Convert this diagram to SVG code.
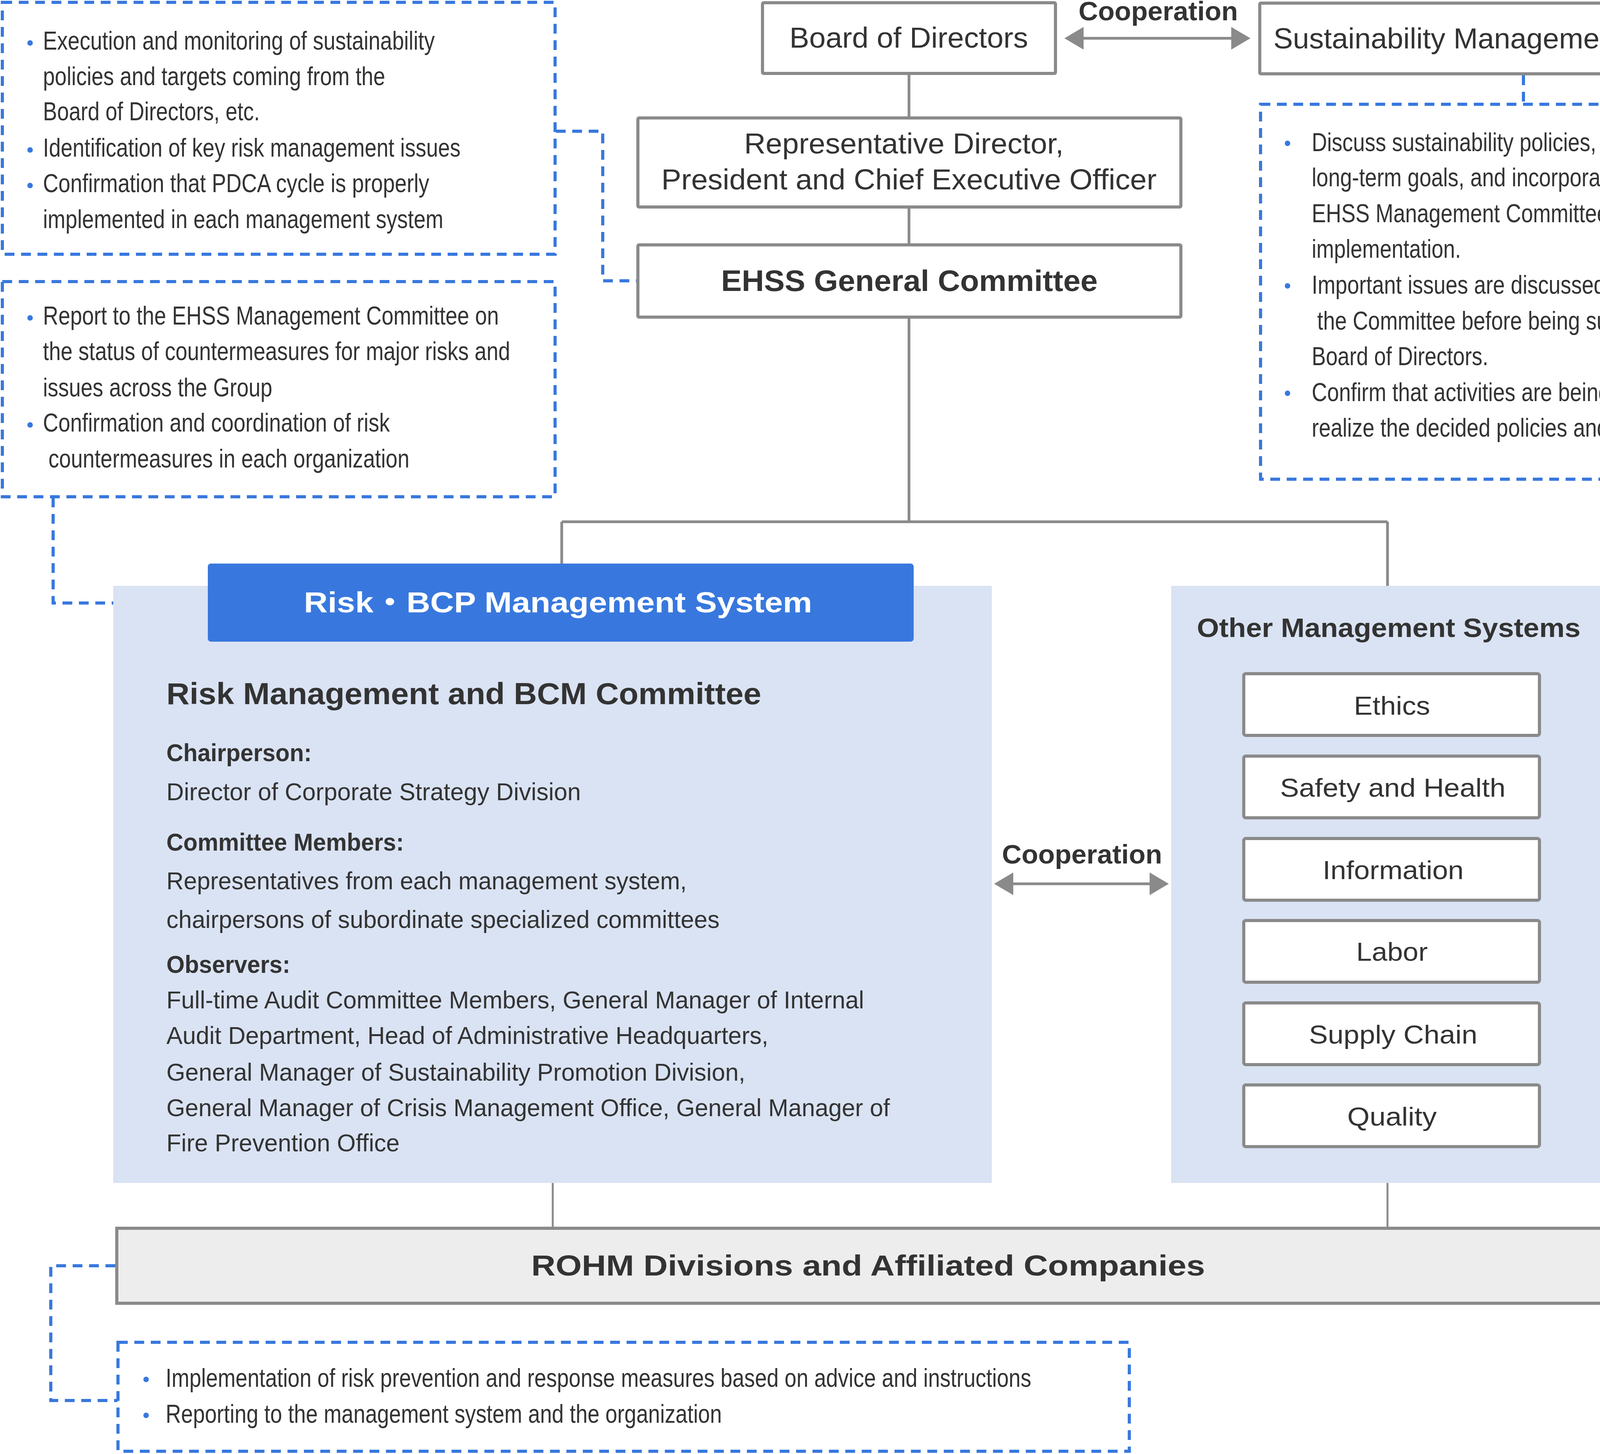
<svg xmlns="http://www.w3.org/2000/svg" width="4583" height="3723" viewBox="0 0 4583 3723">
<style>
.bx{fill:#ffffff;stroke:#8a8a8a;stroke-width:8}
.gl{fill:none;stroke:#8a8a8a;stroke-width:7}
.gt{fill:none;stroke:#8a8a8a;stroke-width:5}
.dsh{fill:none;stroke:#3878de;stroke-width:8;stroke-dasharray:25 17}
.lb{fill:#dae3f3}
.t{font-family:'Liberation Sans',Arial,sans-serif;fill:#333333}
.n{font-family:'Liberation Sans Narrow','Liberation Sans',Arial,sans-serif;fill:#333333;font-size:66px}
.b{font-weight:bold}
.bul{fill:#3878de}
</style>
<defs>
<marker id="ah" markerUnits="userSpaceOnUse" viewBox="0 0 49 58" refX="1" refY="29" markerWidth="49" markerHeight="58" orient="auto-start-reverse">
<path d="M0,0 L49,29 L0,58 Z" fill="#8a8a8a"/>
</marker>
</defs>
<rect width="4583" height="3723" fill="#ffffff"/>

<g id="connectors">
<path class="gl" d="M2327,192 V298"/>
<path class="gl" d="M2327,534 V623"/>
<path class="gl" d="M2327,816 V1336"/>
<path class="gl" d="M1438,1336 H3552"/>
<path class="gl" d="M1438,1336 V1444"/>
<path class="gl" d="M3552,1336 V1500"/>
<path class="gt" d="M1415,3029 V3142"/>
<path class="gt" d="M3552,3029 V3142"/>
<path class="gl" d="M2773,98 H3153" marker-start="url(#ah)" marker-end="url(#ah)"/>
<path class="gl" d="M2593,2263 H2944" marker-start="url(#ah)" marker-end="url(#ah)"/>
<path class="dsh" d="M1423,336 H1543 V719 H1629"/>
<path class="dsh" d="M136,1274 V1544 H522"/>
<path class="dsh" d="M3900,193 V266"/>
<path class="dsh" d="M295,3241 H130 V3586 H301"/>
</g>

<g id="coop-top">
<text class="t b" x="2761" y="52" font-size="68" textLength="408" lengthAdjust="spacingAndGlyphs">Cooperation</text>
</g>
<g id="coop-mid">
<text class="t b" x="2565" y="2211" font-size="68" textLength="410" lengthAdjust="spacingAndGlyphs">Cooperation</text>
</g>

<g id="note-exec">
<rect class="dsh" x="6" y="6" width="1415" height="645"/>
<circle class="bul" cx="77" cy="110" r="7"/>
<circle class="bul" cx="77" cy="384" r="7"/>
<circle class="bul" cx="77" cy="475" r="7"/>
<text class="n" x="110" y="127" textLength="1003" lengthAdjust="spacingAndGlyphs">Execution and monitoring of sustainability</text>
<text class="n" x="110" y="218" textLength="876" lengthAdjust="spacingAndGlyphs">policies and targets coming from the</text>
<text class="n" x="110" y="308" textLength="555" lengthAdjust="spacingAndGlyphs">Board of Directors, etc.</text>
<text class="n" x="110" y="401" textLength="1069" lengthAdjust="spacingAndGlyphs">Identification of key risk management issues</text>
<text class="n" x="110" y="492" textLength="989" lengthAdjust="spacingAndGlyphs">Confirmation that PDCA cycle is properly</text>
<text class="n" x="110" y="584" textLength="1025" lengthAdjust="spacingAndGlyphs">implemented in each management system</text>
</g>

<g id="note-report">
<rect class="dsh" x="6" y="721" width="1415" height="551"/>
<circle class="bul" cx="77" cy="814" r="7"/>
<circle class="bul" cx="77" cy="1088" r="7"/>
<text class="n" x="110" y="831" textLength="1167" lengthAdjust="spacingAndGlyphs">Report to the EHSS Management Committee on</text>
<text class="n" x="110" y="922" textLength="1196" lengthAdjust="spacingAndGlyphs">the status of countermeasures for major risks and</text>
<text class="n" x="110" y="1015" textLength="587" lengthAdjust="spacingAndGlyphs">issues across the Group</text>
<text class="n" x="110" y="1105" textLength="888" lengthAdjust="spacingAndGlyphs">Confirmation and coordination of risk</text>
<text class="n" x="124" y="1197" textLength="924" lengthAdjust="spacingAndGlyphs">countermeasures in each organization</text>
</g>

<g id="board">
<rect class="bx" x="1952" y="7" width="750" height="181" rx="3"/>
<text class="t" x="2021" y="122" font-size="75" textLength="611" lengthAdjust="spacingAndGlyphs">Board of Directors</text>
</g>

<g id="smc">
<rect class="bx" x="3225" y="8" width="1360" height="181" rx="3"/>
<text class="t" x="3260" y="124" font-size="75" textLength="1279" lengthAdjust="spacingAndGlyphs">Sustainability Management Committee</text>
</g>

<g id="note-smc">
<rect class="dsh" x="3227" y="267" width="1351" height="960"/>
<circle class="bul" cx="3296" cy="367" r="7"/>
<circle class="bul" cx="3296" cy="732" r="7"/>
<circle class="bul" cx="3296" cy="1007" r="7"/>
<text class="n" x="3358" y="387" textLength="1070" lengthAdjust="spacingAndGlyphs">Discuss sustainability policies, direction, and</text>
<text class="n" x="3358" y="477" textLength="1115" lengthAdjust="spacingAndGlyphs">long-term goals, and incorporate them into the</text>
<text class="n" x="3358" y="569" textLength="839" lengthAdjust="spacingAndGlyphs">EHSS Management Committee for</text>
<text class="n" x="3358" y="660" textLength="382" lengthAdjust="spacingAndGlyphs">implementation.</text>
<text class="n" x="3358" y="752" textLength="1095" lengthAdjust="spacingAndGlyphs">Important issues are discussed thoroughly by</text>
<text class="n" x="3372" y="844" textLength="1076" lengthAdjust="spacingAndGlyphs">the Committee before being submitted to the</text>
<text class="n" x="3358" y="935" textLength="452" lengthAdjust="spacingAndGlyphs">Board of Directors.</text>
<text class="n" x="3358" y="1027" textLength="1113" lengthAdjust="spacingAndGlyphs">Confirm that activities are being undertaken to</text>
<text class="n" x="3358" y="1118" textLength="921" lengthAdjust="spacingAndGlyphs">realize the decided policies and goals.</text>
</g>

<g id="rep-director">
<rect class="bx" x="1633" y="302" width="1390" height="228" rx="3"/>
<text class="t" x="1905" y="393" font-size="75" textLength="818" lengthAdjust="spacingAndGlyphs">Representative Director,</text>
<text class="t" x="1693" y="485" font-size="75" textLength="1268" lengthAdjust="spacingAndGlyphs">President and Chief Executive Officer</text>
</g>

<g id="ehss">
<rect class="bx" x="1633" y="627" width="1390" height="185" rx="3"/>
<text class="t b" x="1846" y="745" font-size="76" textLength="964" lengthAdjust="spacingAndGlyphs">EHSS General Committee</text>
</g>

<g id="risk-system">
<rect class="lb" x="290" y="1500" width="2249" height="1529"/>
<rect x="532" y="1443" width="1807" height="200" rx="8" fill="#3878de"/>
<text x="778" y="1568" font-size="74" font-weight="bold" fill="#ffffff" font-family="'Liberation Sans','Noto Sans CJK JP',sans-serif" textLength="1301" lengthAdjust="spacingAndGlyphs">Risk・BCP Management System</text>
<text class="t b" x="426" y="1803" font-size="78" textLength="1523" lengthAdjust="spacingAndGlyphs">Risk Management and BCM Committee</text>
<text class="t b" x="426" y="1949" font-size="63" textLength="372" lengthAdjust="spacingAndGlyphs">Chairperson:</text>
<text class="t" x="426" y="2049" font-size="63" textLength="1061" lengthAdjust="spacingAndGlyphs">Director of Corporate Strategy Division</text>
<text class="t b" x="426" y="2178" font-size="63" textLength="608" lengthAdjust="spacingAndGlyphs">Committee Members:</text>
<text class="t" x="426" y="2277" font-size="63" textLength="1332" lengthAdjust="spacingAndGlyphs">Representatives from each management system,</text>
<text class="t" x="426" y="2376" font-size="63" textLength="1416" lengthAdjust="spacingAndGlyphs">chairpersons of subordinate specialized committees</text>
<text class="t b" x="426" y="2491" font-size="63" textLength="317" lengthAdjust="spacingAndGlyphs">Observers:</text>
<text class="t" x="426" y="2582" font-size="63" textLength="1786" lengthAdjust="spacingAndGlyphs">Full-time Audit Committee Members, General Manager of Internal</text>
<text class="t" x="426" y="2673" font-size="63" textLength="1541" lengthAdjust="spacingAndGlyphs">Audit Department, Head of Administrative Headquarters,</text>
<text class="t" x="426" y="2767" font-size="63" textLength="1482" lengthAdjust="spacingAndGlyphs">General Manager of Sustainability Promotion Division,</text>
<text class="t" x="426" y="2858" font-size="63" textLength="1852" lengthAdjust="spacingAndGlyphs">General Manager of Crisis Management Office, General Manager of</text>
<text class="t" x="426" y="2948" font-size="63" textLength="597" lengthAdjust="spacingAndGlyphs">Fire Prevention Office</text>
</g>

<g id="other-systems">
<rect class="lb" x="2998" y="1500" width="1107" height="1529"/>
<text class="t b" x="3064" y="1631" font-size="68" textLength="982" lengthAdjust="spacingAndGlyphs">Other Management Systems</text>
</g>
<g id="ethics">
<rect class="bx" x="3184" y="1725" width="757" height="158" rx="5"/>
<text class="t" x="3466" y="1830" font-size="66" textLength="195" lengthAdjust="spacingAndGlyphs">Ethics</text>
</g>
<g id="safety">
<rect class="bx" x="3184" y="1936" width="757" height="158" rx="5"/>
<text class="t" x="3277" y="2040" font-size="66" textLength="577" lengthAdjust="spacingAndGlyphs">Safety and Health</text>
</g>
<g id="information">
<rect class="bx" x="3184" y="2147" width="757" height="158" rx="5"/>
<text class="t" x="3386" y="2251" font-size="66" textLength="361" lengthAdjust="spacingAndGlyphs">Information</text>
</g>
<g id="labor">
<rect class="bx" x="3184" y="2357" width="757" height="158" rx="5"/>
<text class="t" x="3472" y="2460" font-size="66" textLength="183" lengthAdjust="spacingAndGlyphs">Labor</text>
</g>
<g id="supply-chain">
<rect class="bx" x="3184" y="2568" width="757" height="158" rx="5"/>
<text class="t" x="3351" y="2672" font-size="66" textLength="431" lengthAdjust="spacingAndGlyphs">Supply Chain</text>
</g>
<g id="quality">
<rect class="bx" x="3184" y="2778" width="757" height="158" rx="5"/>
<text class="t" x="3449" y="2882" font-size="66" textLength="229" lengthAdjust="spacingAndGlyphs">Quality</text>
</g>

<g id="rohm">
<rect x="299" y="3145" width="3802" height="192" fill="#ededed" stroke="#8a8a8a" stroke-width="8"/>
<text class="t b" x="1360" y="3266" font-size="74" textLength="1725" lengthAdjust="spacingAndGlyphs">ROHM Divisions and Affiliated Companies</text>
</g>

<g id="note-rohm">
<rect class="dsh" x="302" y="3437" width="2589" height="279"/>
<circle class="bul" cx="374" cy="3532" r="7"/>
<circle class="bul" cx="374" cy="3624" r="7"/>
<text class="n" x="424" y="3551" textLength="2216" lengthAdjust="spacingAndGlyphs">Implementation of risk prevention and response measures based on advice and instructions</text>
<text class="n" x="424" y="3643" textLength="1424" lengthAdjust="spacingAndGlyphs">Reporting to the management system and the organization</text>
</g>
</svg>
